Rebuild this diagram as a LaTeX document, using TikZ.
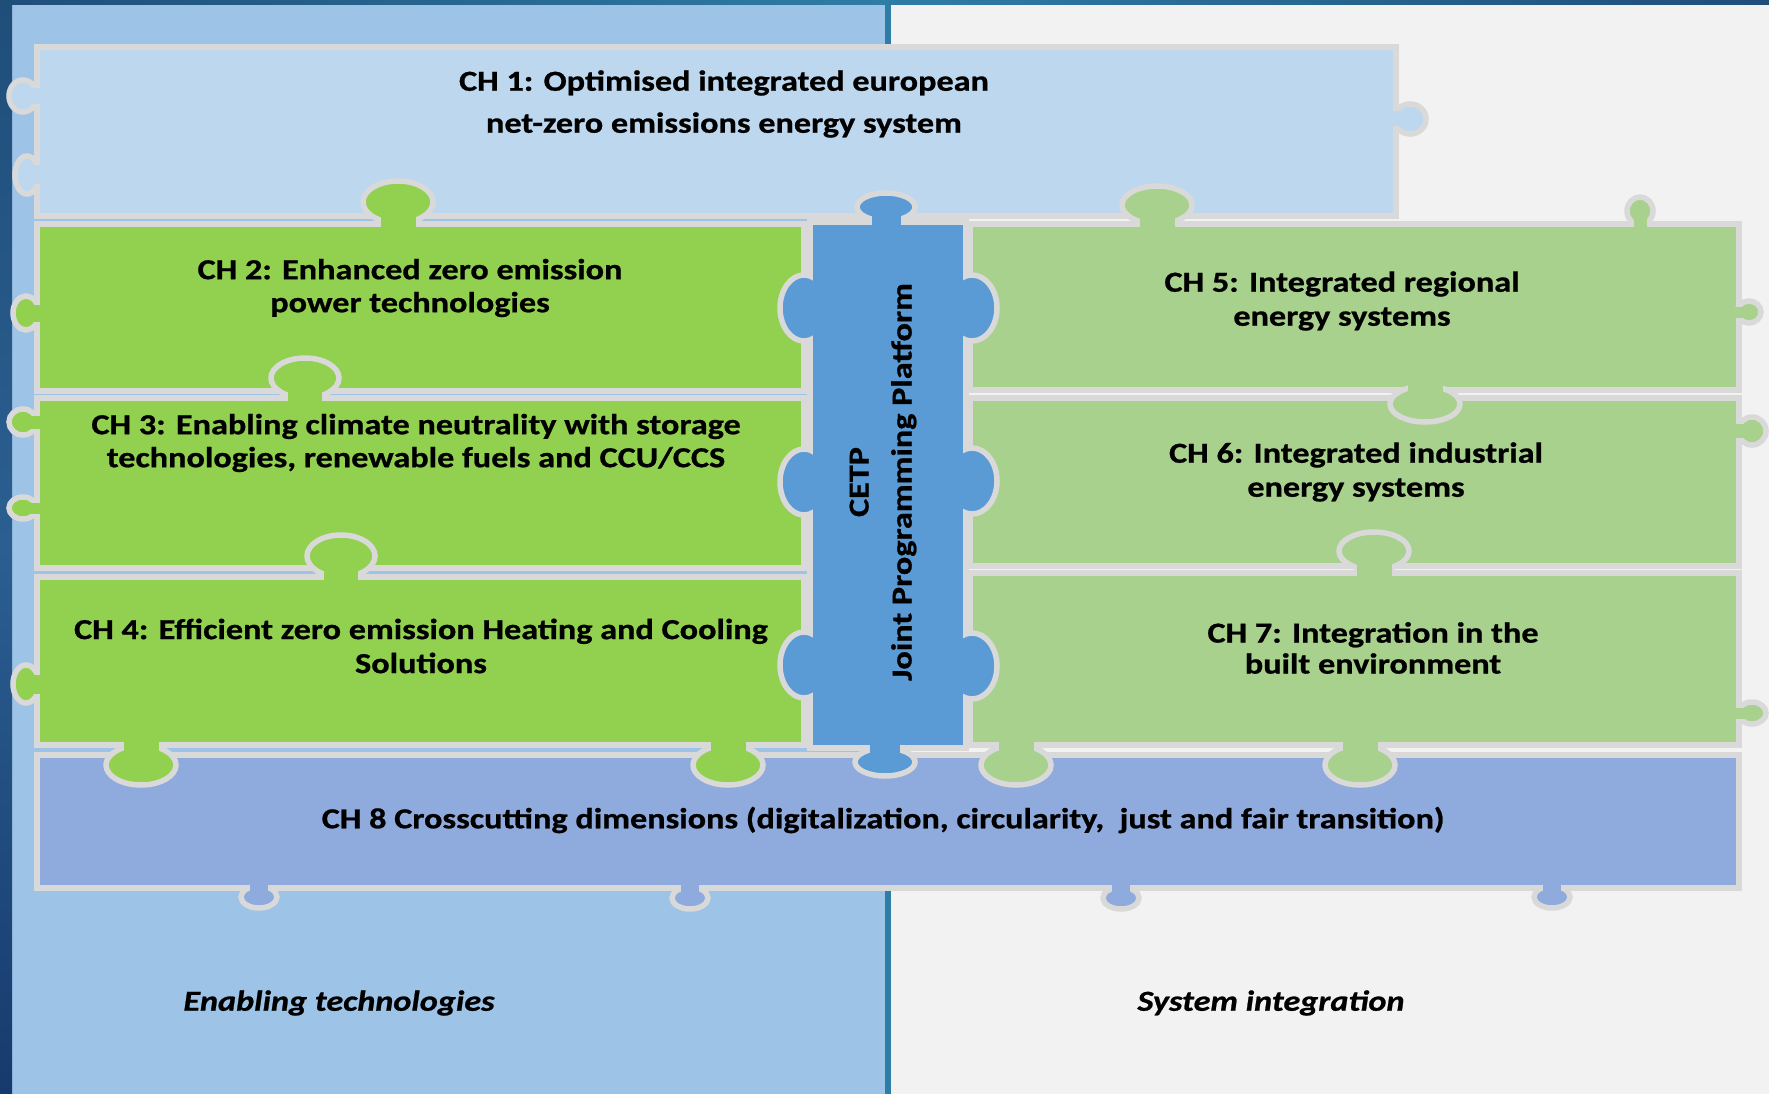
\documentclass[tikz,border=0pt]{standalone}
\usepackage{fontspec}
\setmainfont{Carlito}[FakeStretch=1.18, BoldFeatures={FakeBold=0.8}, BoldItalicFeatures={FakeBold=0.8}]
\definecolor{bgleft}{HTML}{9DC3E6}
\definecolor{bgright}{HTML}{F2F2F2}
\definecolor{bordergray}{HTML}{D9D9D9}
\definecolor{chone}{HTML}{BDD7EE}
\definecolor{ggreen}{HTML}{92D050}
\definecolor{lgreen}{HTML}{A9D18E}
\definecolor{cetpblue}{HTML}{5B9BD5}
\definecolor{cheight}{HTML}{8FAADC}
\definecolor{navy}{HTML}{1F4E79}
\definecolor{navymid}{HTML}{2B5F91}
\definecolor{navydark}{HTML}{173A6E}
\definecolor{divteal}{HTML}{2E7DA6}
\newcommand\knobD[5]{%
  \filldraw[knobline, fill=#5] (#1,#2) ellipse [x radius=#3, y radius=#4];
  \fill[#5] ({#1-0.5*#3},#2) rectangle ({#1+0.5*#3},{#2+#4+12});}
\newcommand\knobU[5]{%
  \filldraw[knobline, fill=#5] (#1,#2) ellipse [x radius=#3, y radius=#4];
  \fill[#5] ({#1-0.5*#3},{#2-#4-12}) rectangle ({#1+0.5*#3},#2);}
\newcommand\knobL[5]{%
  \filldraw[knobline, fill=#5] (#1,#2) ellipse [x radius=#3, y radius=#4];
  \fill[#5] ({#1-#3-12},{#2-0.5*#4}) rectangle (#1,{#2+0.5*#4});}
\newcommand\knobR[5]{%
  \filldraw[knobline, fill=#5] (#1,#2) ellipse [x radius=#3, y radius=#4];
  \fill[#5] (#1,{#2-0.5*#4}) rectangle ({#1+#3+12},{#2+0.5*#4});}
\begin{document}
\begin{tikzpicture}[x=1pt,y=-1pt,
  piece/.style={draw=bordergray, line width=6pt},
  knobline/.style={draw=bordergray, line width=5.5pt},
  lbl/.style={align=center, inner sep=0pt, text=black},
  side/.style={inner sep=0pt, text=black, font=\bfseries\itshape\fontsize{29}{32}\selectfont},
]
\useasboundingbox (0,0) rectangle (1769,1094);
% background panels
\fill[bgleft] (0,0) rectangle (888,1094);
\fill[bgright] (888,0) rectangle (1769,1094);
\fill[divteal] (885,0) rectangle (891,1094);
\shade[left color=navy, right color=navy, middle color=divteal] (0,0) rectangle (1769,5);
\shade[top color=navy, bottom color=navydark, middle color=navymid] (0,0) rectangle (12,1094);
% pieces
\filldraw[piece, fill=chone] (37,47) rectangle (1396,216);
\filldraw[piece, fill=ggreen] (37,224) rectangle (804,391);
\filldraw[piece, fill=ggreen] (37,398) rectangle (804,568);
\filldraw[piece, fill=ggreen] (37,577) rectangle (804,745);
\filldraw[piece, fill=cetpblue] (810,222) rectangle (966,748);
\filldraw[piece, fill=lgreen] (970,224) rectangle (1739,390);
\filldraw[piece, fill=lgreen] (970,398) rectangle (1739,566);
\filldraw[piece, fill=lgreen] (970,573) rectangle (1739,745);
\filldraw[piece, fill=cheight] (37,755) rectangle (1739,888);
% knobs on outer left edge
\knobR{23}{96}{14}{16}{chone}
\knobR{27}{175}{12}{19}{chone}
\knobR{26}{313}{13}{17}{ggreen}
\knobR{23}{422}{14}{13}{ggreen}
\knobR{23}{508}{14}{11}{ggreen}
\knobR{26}{684}{13}{19}{ggreen}
% knobs on outer right edge
\knobL{1410}{119}{16}{15}{chone}
\knobL{1749}{312}{12}{11}{lgreen}
\knobL{1752}{431}{14}{14}{lgreen}
\knobL{1752}{713}{14}{11}{lgreen}
% top knobs
\knobD{398}{202}{35}{21}{ggreen}
\knobD{886}{207}{29}{14}{cetpblue}
\knobD{1157}{205}{35}{19}{lgreen}
\knobD{1640}{211}{13}{14}{lgreen}
% internal knobs
\knobD{305}{378}{34}{20}{ggreen}
\knobD{341}{556}{34}{21}{ggreen}
\knobD{1374}{551}{35}{19}{lgreen}
\knobU{1425}{404}{35}{18}{lgreen}
\knobU{141}{765}{35}{20}{ggreen}
\knobU{728}{765}{35}{20}{ggreen}
\knobU{1016}{765}{35}{20}{lgreen}
\knobU{1360}{765}{35}{20}{lgreen}
\knobU{885}{762}{30}{14}{cetpblue}
% CETP side knobs
\knobR{804}{308}{24}{33}{cetpblue}
\knobR{804}{482}{24}{33}{cetpblue}
\knobR{804}{665}{24}{33}{cetpblue}
\knobL{972}{308}{25}{33}{cetpblue}
\knobL{972}{481}{25}{33}{cetpblue}
\knobL{972}{666}{25}{33}{cetpblue}
\fill[cetpblue] (813,225) rectangle (963,745);
% CH8 bottom knobs
\knobU{259}{897}{18}{11}{cheight}
\knobU{690}{898}{18}{11}{cheight}
\knobU{1121}{898}{18}{11}{cheight}
\knobU{1552}{897}{18}{11}{cheight}
% labels
\node[lbl, font=\bfseries\fontsize{29}{42}\selectfont] (ch1) at (724,104) {CH 1: Optimised integrated european\\net-zero emissions energy system};
\node[lbl, font=\bfseries\fontsize{29}{33}\selectfont] (ch2) at (410,288) {CH 2: Enhanced zero emission\\power technologies};
\node[lbl, font=\bfseries\fontsize{29}{33}\selectfont] (ch3) at (416,443) {CH 3: Enabling climate neutrality with storage\\technologies, renewable fuels and CCU/CCS};
\node[lbl, font=\bfseries\fontsize{29}{34}\selectfont] (ch4) at (421,646) {CH 4: Efficient zero emission Heating and Cooling\\Solutions};
\node[lbl, font=\bfseries\fontsize{29}{34}\selectfont] (ch5) at (1342,301) {CH 5: Integrated regional\\energy systems};
\node[lbl, font=\bfseries\fontsize{29}{34}\selectfont] (ch6) at (1356,472) {CH 6: Integrated industrial\\energy systems};
\node[lbl, font=\bfseries\fontsize{29}{31}\selectfont] (ch7) at (1373,648) {CH 7: Integration in the\\built environment};
\node[lbl, font=\bfseries\fontsize{29}{43}\selectfont, rotate=90] (cetp) at (883,482) {CETP\\Joint Programming Platform};
\node[lbl, font=\bfseries\fontsize{29}{33}\selectfont] (ch8) at (883,820) {CH 8 Crosscutting dimensions (digitalization, circularity,~ just and fair transition)};
\node[side] (enab) at (339,1003) {Enabling technologies};
\node[side] (sysint) at (1271,1003) {System integration};
\end{tikzpicture}
\end{document}
